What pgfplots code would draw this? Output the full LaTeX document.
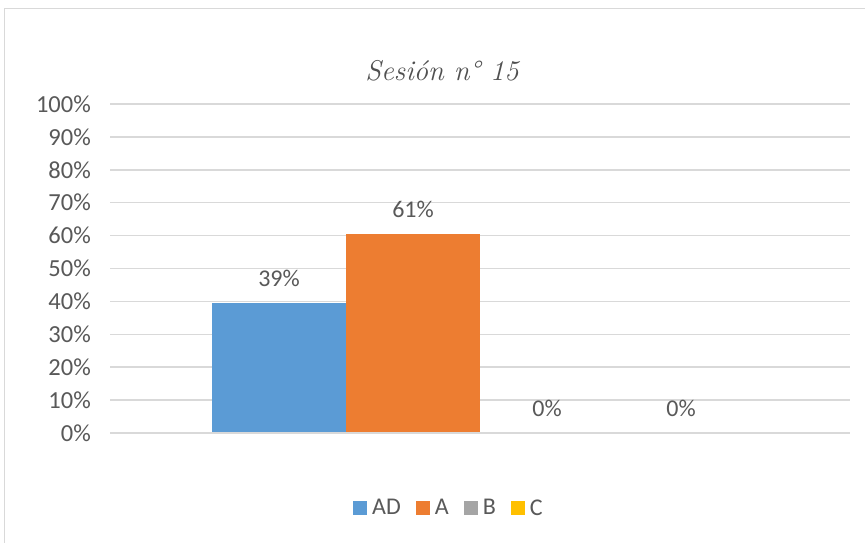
\documentclass[border=0pt]{standalone}
\usepackage{pgfplots}
\pgfplotsset{compat=1.18}
\usepackage{fontspec}
\setsansfont{Carlito}
\renewcommand*{\familydefault}{\sfdefault}
\definecolor{cAD}{HTML}{5B9BD5}
\definecolor{cA}{HTML}{ED7D31}
\definecolor{cB}{HTML}{A5A5A5}
\definecolor{cC}{HTML}{FFC000}
\definecolor{gridc}{HTML}{D9D9D9}
\definecolor{txt}{HTML}{595959}
\definecolor{ttl}{HTML}{505050}
\begin{document}
\sffamily
\begin{tikzpicture}[x=1pt,y=1pt]
\useasboundingbox (0,0) rectangle (865,543);
\fill[white] (0,0) rectangle (865,543);
\draw[gridc, line width=1.5pt] (4.5,-5) -- (4.5,534.5) -- (870,534.5);
\begin{axis}[
  at={(110pt,110pt)}, anchor=south west,
  scale only axis, width=740pt, height=329pt,
  ybar=0pt, bar width=134pt,
  xmin=-0.5, xmax=0.5,
  ymin=0, ymax=100,
  xtick=\empty,
  ytick={0,10,...,100},
  yticklabel={\pgfmathprintnumber{\tick}\%},
  /pgf/number format/assume math mode=true,
  ymajorgrids,
  grid style={gridc, line width=1.5pt},
  axis line style={draw=none},
  major tick length=0pt,
  yticklabel style={font=\sffamily\fontsize{24.5}{28}\selectfont, text=txt, anchor=east, inner sep=0pt, xshift=-19pt},
  every node near coord/.append style={font=\sffamily\fontsize{24}{28}\selectfont, text=txt, anchor=south, yshift=13pt},
  nodes near coords={\pgfmathprintnumber[fixed,precision=0]{\pgfplotspointmeta}\%},
  point meta=y,
  legend columns=4,
  legend style={draw=none, at={(0.458,-0.228)}, anchor=center, font=\sffamily\fontsize{24}{28}\selectfont, text=txt,
    /tikz/every even column/.append style={column sep=13pt},
    /tikz/every odd column/.append style={column sep=3pt}},
  legend image code/.code={\fill[#1] (0pt,-7pt) rectangle (14pt,7pt);},
  clip=false,
]
\addplot[fill=cAD, draw=none] coordinates {(0,39.47)};
\addplot[fill=cA, draw=none] coordinates {(0,60.53)};
\addplot[fill=cB, draw=none] coordinates {(0,0)};
\addplot[fill=cC, draw=none] coordinates {(0,0)};
\draw[gridc, line width=1.5pt] (axis description cs:0,0) -- (axis description cs:1,0);
\legend{AD,A,B,C}
\end{axis}
\node[text=ttl] at (442,472) {\rmfamily\itshape\fontsize{28.5}{32}\selectfont Sesión n° 15};
\end{tikzpicture}
\end{document}
